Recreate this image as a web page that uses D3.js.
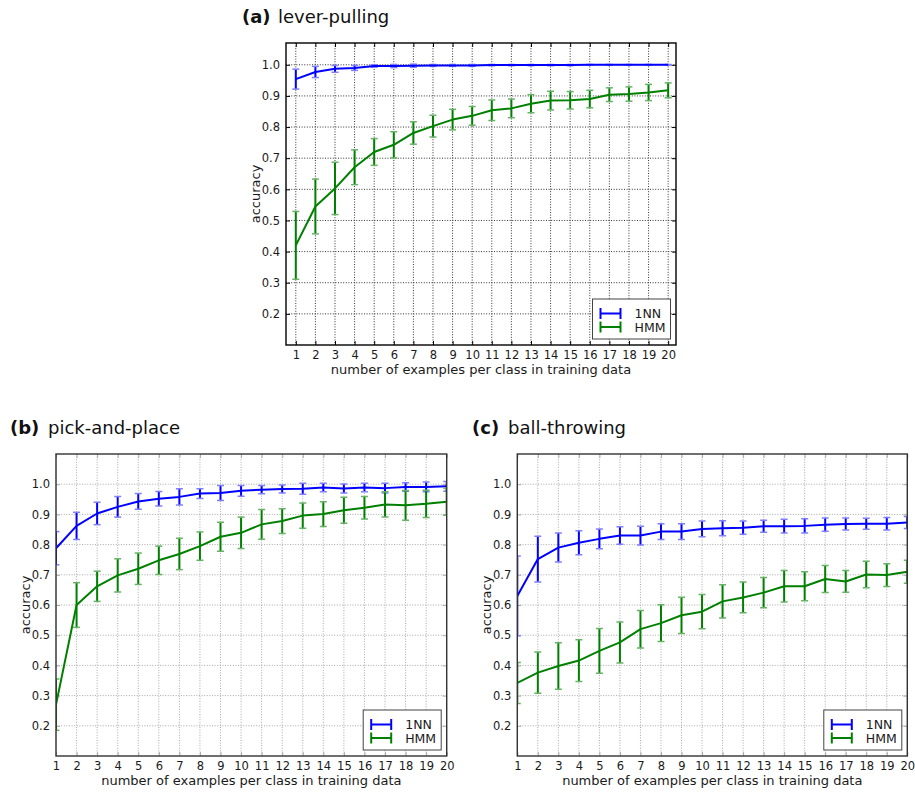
<!DOCTYPE html>
<html><head><meta charset="utf-8">
<script src="https://cdn.jsdelivr.net/npm/d3@7"></script>
<style>body{margin:0;background:#fff}svg{display:block}text{font-family:"DejaVu Sans",sans-serif}</style>
</head><body><svg id="c" width="915" height="792"></svg>
<script>
const examples = d3.range(1, 21);
const yTicks = [0.2, 0.3, 0.4, 0.5, 0.6, 0.7, 0.8, 0.9, 1.0];
const seriesNames = ["1NN", "HMM"];
const titles = [["(a)", "lever-pulling"], ["(b)", "pick-and-place"], ["(c)", "ball-throwing"]];
const xLabel = "number of examples per class in training data";
const yLabel = "accuracy";

const leverNN = [0.954,0.977,0.987,0.990,0.996,0.996,0.997,0.998,0.998,0.998,0.999,0.999,0.999,0.999,0.999,1.0,1.0,1.0,1.0,1.0];
const leverNNErr = [0.032,0.018,0.011,0.008,0.004,0.005,0.005,0.003,0.003,0.003,0.002,0.002,0.002,0.002,0.002,0.001,0.001,0.001,0.001,0.001];
const leverHMM = [0.42,0.545,0.603,0.671,0.72,0.743,0.781,0.803,0.824,0.836,0.854,0.86,0.875,0.885,0.886,0.89,0.904,0.906,0.911,0.918];
const leverHMMErr = [0.109,0.088,0.084,0.056,0.043,0.042,0.036,0.035,0.033,0.030,0.033,0.030,0.029,0.030,0.028,0.028,0.022,0.023,0.026,0.024];

const pickNN = [0.788,0.862,0.903,0.925,0.943,0.952,0.958,0.969,0.971,0.978,0.982,0.984,0.985,0.989,0.986,0.989,0.987,0.991,0.991,0.993];
const pickNNErr = [0.055,0.045,0.037,0.034,0.026,0.024,0.027,0.016,0.025,0.018,0.014,0.013,0.018,0.014,0.015,0.014,0.016,0.014,0.016,0.016];
const pickHMM = [0.27,0.60,0.662,0.698,0.72,0.748,0.769,0.795,0.826,0.839,0.867,0.878,0.896,0.901,0.914,0.922,0.933,0.93,0.935,0.942];
const pickHMMErr = [0.085,0.074,0.05,0.055,0.052,0.047,0.052,0.047,0.048,0.052,0.049,0.041,0.042,0.041,0.043,0.037,0.042,0.049,0.045,0.045];

const ballNN = [0.63,0.752,0.79,0.806,0.819,0.83,0.83,0.843,0.843,0.852,0.854,0.856,0.861,0.861,0.862,0.866,0.868,0.869,0.869,0.873];
const ballNNErr = [0.132,0.076,0.048,0.04,0.033,0.029,0.031,0.026,0.026,0.026,0.025,0.022,0.02,0.023,0.024,0.022,0.02,0.018,0.021,0.02];
const ballHMM = [0.342,0.376,0.398,0.416,0.448,0.476,0.52,0.54,0.566,0.578,0.612,0.625,0.641,0.662,0.662,0.686,0.678,0.701,0.699,0.71];
const ballHMMErr = [0.068,0.068,0.077,0.069,0.074,0.068,0.062,0.061,0.06,0.057,0.055,0.051,0.05,0.052,0.048,0.045,0.036,0.044,0.038,0.038];

const colors = ["#0000ff", "#008000"];
const capColors = ["#7f7fff", "#66b366"];

const svg = d3.select("#c");

const panels = [
  {id:"a", title:titles[0], nn:[leverNN, leverNNErr], hmm:[leverHMM, leverHMMErr],
   box:{l:286, r:676, t:43, b:345}, xd:[0.5, 20.4], yd:[0.1, 1.07], grid:"#333", tick:"#000", frame:"#000",
   titleX:242, titleX2:278, titleY:23, ylabX:255},
  {id:"b", title:titles[1], nn:[pickNN, pickNNErr], hmm:[pickHMM, pickHMMErr],
   box:{l:56, r:446.7, t:454, b:756}, xd:[1, 20], yd:[0.1, 1.1], grid:"#a8a8a8", tick:"#aaa", frame:"#333",
   titleX:10, titleX2:48, titleY:434, ylabX:25},
  {id:"c", title:titles[2], nn:[ballNN, ballNNErr], hmm:[ballHMM, ballHMMErr],
   box:{l:517.3, r:907.3, t:454, b:756}, xd:[1, 20], yd:[0.1, 1.1], grid:"#a8a8a8", tick:"#aaa", frame:"#333",
   titleX:472, titleX2:508, titleY:434, ylabX:486}
];

panels.forEach(p => {
  const B = p.box;
  const x = d3.scaleLinear().domain(p.xd).range([B.l, B.r]);
  const y = d3.scaleLinear().domain(p.yd).range([B.b, B.t]);
  const g = svg.append("g");

  // title
  const tt = g.append("text").attr("y", p.titleY).attr("font-size", 18).attr("fill", "#111");
  tt.append("tspan").attr("x", p.titleX).attr("font-weight", "bold").text(p.title[0]);
  tt.append("tspan").attr("x", p.titleX2).text(p.title[1]);

  // grid
  const gg = g.append("g").attr("stroke", p.grid).attr("stroke-width", 1).attr("stroke-dasharray", "1,1.6");
  examples.forEach(v => gg.append("line").attr("x1", x(v)).attr("x2", x(v)).attr("y1", B.t).attr("y2", B.b));
  yTicks.forEach(v => gg.append("line").attr("y1", y(v)).attr("y2", y(v)).attr("x1", B.l).attr("x2", B.r));

  // axes with inner ticks
  const xb = g.append("g").attr("transform", `translate(0,${B.b})`)
    .call(d3.axisBottom(x).tickValues(examples).tickSizeInner(-4).tickSizeOuter(0).tickPadding(6).tickFormat(d3.format("d")));
  const xt = g.append("g").attr("transform", `translate(0,${B.t})`)
    .call(d3.axisTop(x).tickValues(examples).tickSizeInner(-4).tickSizeOuter(0).tickFormat(""));
  const yl = g.append("g").attr("transform", `translate(${B.l},0)`)
    .call(d3.axisLeft(y).tickValues(yTicks).tickSizeInner(-4).tickSizeOuter(0).tickPadding(6).tickFormat(d3.format(".1f")));
  const yr = g.append("g").attr("transform", `translate(${B.r},0)`)
    .call(d3.axisRight(y).tickValues(yTicks).tickSizeInner(-4).tickSizeOuter(0).tickFormat(""));
  [xb, xt, yl, yr].forEach(a => {
    a.select(".domain").remove();
    a.selectAll(".tick line").attr("stroke", p.tick);
    a.selectAll("text").attr("font-size", 11.5).attr("fill", "#1a1a1a").attr("font-family", "DejaVu Sans");
  });

  // axis labels
  g.append("text").attr("x", (B.l + B.r) / 2).attr("y", B.b + 29).attr("text-anchor", "middle")
    .attr("font-size", 13).attr("fill", "#1a1a1a").text(xLabel);
  g.append("text").attr("transform", `translate(${p.ylabX},${(B.t + B.b) / 2}) rotate(-90)`)
    .attr("text-anchor", "middle").attr("dy", "0.35em").attr("font-size", 13).attr("fill", "#1a1a1a").text(yLabel);

  // clip
  const cid = "clip-" + p.id;
  svg.append("clipPath").attr("id", cid).append("rect")
    .attr("x", B.l).attr("y", B.t).attr("width", B.r - B.l).attr("height", B.b - B.t);
  const plot = g.append("g").attr("clip-path", `url(#${cid})`);

  [p.nn, p.hmm].forEach((s, si) => {
    const [m, e] = s;
    const data = examples.map((v, i) => ({x: v, m: m[i], e: e[i]}));
    const sg = plot.append("g");
    sg.selectAll("line.bar").data(data).join("line").attr("class", "bar")
      .attr("x1", d => x(d.x)).attr("x2", d => x(d.x))
      .attr("y1", d => y(d.m - d.e)).attr("y2", d => y(d.m + d.e))
      .attr("stroke", colors[si]).attr("stroke-width", 2);
    ["lo", "hi"].forEach(k => {
      sg.selectAll("line.cap" + k).data(data).join("line").attr("class", "cap" + k)
        .attr("x1", d => x(d.x) - 3.5).attr("x2", d => x(d.x) + 3.5)
        .attr("y1", d => y(k === "lo" ? d.m - d.e : d.m + d.e))
        .attr("y2", d => y(k === "lo" ? d.m - d.e : d.m + d.e))
        .attr("stroke", capColors[si]).attr("stroke-width", 1.5);
    });
    sg.append("path").datum(data)
      .attr("d", d3.line().x(d => x(d.x)).y(d => y(d.m)))
      .attr("fill", "none").attr("stroke", colors[si]).attr("stroke-width", 2).attr("stroke-linejoin", "round");
  });

  // frame
  g.append("rect").attr("x", B.l).attr("y", B.t).attr("width", B.r - B.l).attr("height", B.b - B.t)
    .attr("fill", "none").attr("stroke", p.frame).attr("stroke-width", 1.4);

  // legend
  const lw = 78, lh = 40;
  const lx = B.r - 5.5 - lw, ly = B.b - 6 - lh;
  const lg = g.append("g");
  lg.append("rect").attr("x", lx).attr("y", ly).attr("width", lw).attr("height", lh)
    .attr("fill", "#fff").attr("stroke", "#444").attr("stroke-width", 1);
  seriesNames.forEach((name, i) => {
    const cy = ly + 14.5 + i * 13.5;
    const x0 = lx + 8, x1 = lx + 28;
    lg.append("line").attr("x1", x0).attr("x2", x1).attr("y1", cy).attr("y2", cy)
      .attr("stroke", colors[i]).attr("stroke-width", 2);
    [x0, x1].forEach(xx => lg.append("line").attr("x1", xx).attr("x2", xx).attr("y1", cy - 5.5).attr("y2", cy + 5.5)
      .attr("stroke", colors[i]).attr("stroke-width", 2));
    lg.append("text").attr("x", lx + 42).attr("y", cy).attr("dy", "0.36em")
      .attr("font-size", 12.5).attr("fill", "#1a1a1a").text(name);
  });
});
</script></body></html>
